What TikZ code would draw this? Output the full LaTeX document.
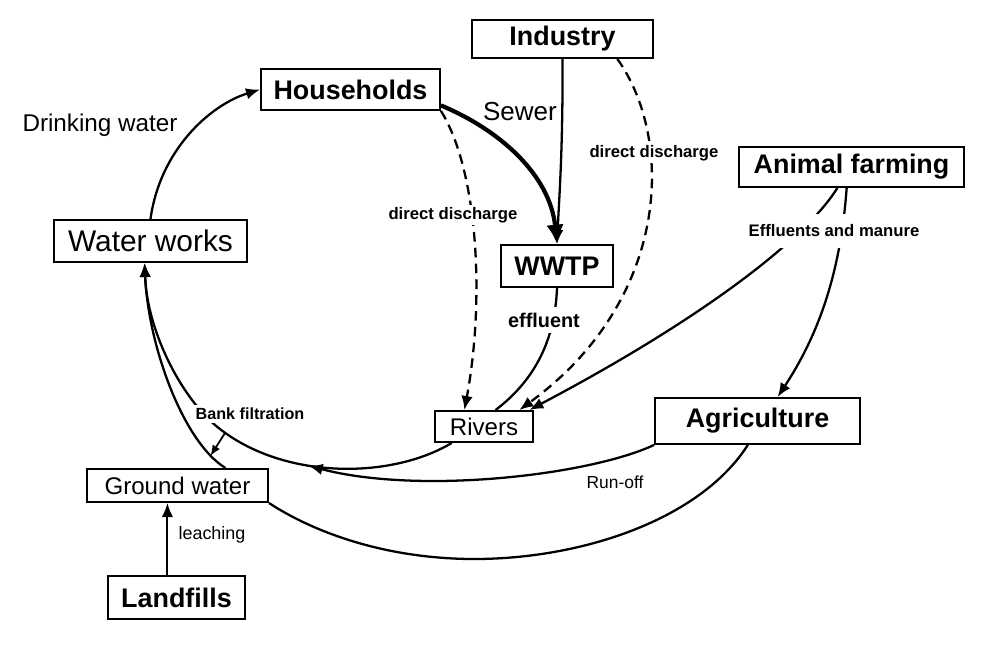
\documentclass[tikz,border=0pt]{standalone}
\usepackage{fontspec}
\setmainfont{Liberation Sans}
\usetikzlibrary{arrows.meta}
\begin{document}
\begin{tikzpicture}[x=0.02cm,y=-0.02cm,line width=1.3pt,>={Latex[length=8pt,width=6.5pt]}]
            \def\fs#1{\fontsize{#1}{#1}\selectfont}
            \tikzset{box/.style={draw,line width=1.1pt,inner sep=0pt},
                bbox/.style={box,font=\fs{15.3}\bfseries},
                rbox/.style={box,font=\fs{13.7}},
                cut/.style={fill=white,inner sep=1.5pt,font=\fs{9.5}\bfseries},
                dsh/.style={dashed,dash pattern=on 5.5pt off 3.5pt,->}}
            \useasboundingbox (0,0) rectangle (983,661);
            %=========================================== boxes
            \node[bbox,minimum width=3.58cm,minimum height=.82cm] (hh) at (350.5,89.5) {Households};
            \node[bbox,minimum width=3.62cm,minimum height=.76cm] (ind) at (562.5,39) {Industry};
            \node[box,font=\fs{17},minimum width=3.86cm,minimum height=.84cm] (ww) at (150.5,241) {Water works};
            \node[bbox,minimum width=2.24cm,minimum height=.84cm] (wwtp) at (557,266) {WWTP};
            \node[bbox,minimum width=4.5cm,minimum height=.8cm] (af) at (851.5,167) {Animal farming};
            \node[rbox,minimum width=1.96cm,minimum height=.62cm] (riv) at (484,426.5) {Rivers};
            \node[bbox,minimum width=4.1cm,minimum height=.92cm] (agr) at (757.5,421) {Agriculture};
            \node[rbox,minimum width=3.62cm,minimum height=.66cm] (gw) at (177.5,485.5) {Ground water};
            \node[bbox,minimum width=2.74cm,minimum height=.86cm] (lf) at (176.5,597.5) {Landfills};
            %=========================================== flows
            \draw[->] (ww.north) .. controls (160,150) and (210,105) .. (hh.west);
            \draw[->] (ind.south) .. controls (563,150) and (559,200) .. (wwtp.north);
            \draw[line width=2.4pt,-{Latex[length=11pt,width=10pt]}] (hh.-10) .. controls (500,130) and (550,175) .. (wwtp.north);
            \draw[dsh] (hh.south east) .. controls (478,170) and (485,300) .. (riv.140);
            \draw[dsh] (ind.-20) .. controls (675,140) and (670,300) .. (riv.25);
            \draw (wwtp.south) .. controls (555,340) and (535,380) .. (riv.55);
            \draw[->] (af.-124) .. controls (805,240) and (700,320) .. (riv.20);
            \draw[->] (af.-103) .. controls (840,280) and (815,340) .. (agr.50);
            \draw[->] (riv.-153) .. controls (390,480) and (280,480) .. coordinate[pos=.6] (ro) coordinate[pos=.95] (bfs) (215,425)
                .. controls (180,395) and (147,330) .. (ww.-105);
            \node[cut,font=\fs{9.2}\bfseries] (lbf) at (250,414) {Bank filtration};
            \draw[->] (gw.20) .. controls (183,442) and (148,345) .. coordinate[pos=.12] (bfe) (ww.-105);
            \draw[line width=1pt,-{Latex[length=6pt,width=5pt]}] (bfs) -- (bfe);
            \draw[->] (agr.south west) .. controls (590,475) and (420,495) .. (ro);
            \draw (agr.-112) .. controls (700,520) and (580,560) .. (470,559) .. controls (380,558) and (310,530) .. (gw.south east);
            \draw[line width=1.1pt,->] (lf.112) -- (lf.112 |- gw.south);
            %=========================================== labels
            \node[font=\fs{13.8}] (ldw) at (100,125) {Drinking water};
            \node[font=\fs{14.8}] (lsew) at (520,112) {Sewer};
            \node[cut] (ldd1) at (453,215) {direct discharge};
            \node[cut] (ldd2) at (654,153) {direct discharge};
            \node[cut,font=\fs{11.3}\bfseries,inner sep=3pt] (leff) at (544,320) {effluent};
            \node[cut,inner ysep=6pt] (lem) at (834,231) {Effluents and manure};
            \node[font=\fs{9.9}] (lro) at (615,482) {Run-off};
            \node[font=\fs{10.2}] (lle) at (212,535) {leaching};
    \end{tikzpicture}
\end{document}
